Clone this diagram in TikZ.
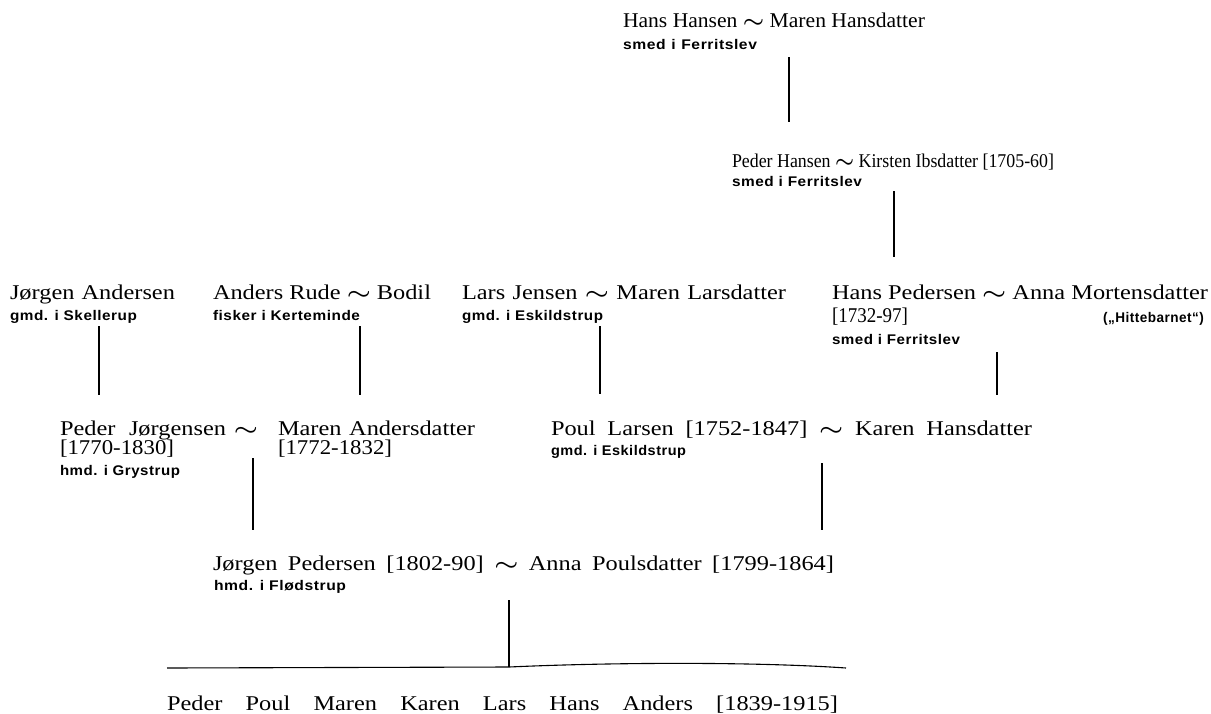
\documentclass[tikz,border=0pt]{standalone}
\usepackage{fontspec}
\usepackage{graphicx}
\newfontfamily\nmfont{Liberation Serif}[FakeStretch=1.16]
\newfontfamily\sbfont{Liberation Sans}[FakeStretch=1.12,LetterSpace=4]
\newcommand\swung{\scalebox{1.3}[1]{\boldmath$\sim$}}
\newsavebox\fitbox
\newcommand\fitw[2]{%
  \sbox\fitbox{#2}%
  \ifdim\wd\fitbox>#1pt
    \resizebox{#1pt}{\height}{\usebox\fitbox}%
  \else
    \makebox[#1pt][s]{#2}%
  \fi}
\tikzset{
  nm/.style={anchor=base west, inner sep=0pt, outer sep=0pt, font=\nmfont\fontsize{21}{19}\selectfont},
  sb/.style={anchor=base west, inner sep=0pt, outer sep=0pt, font=\sbfont\bfseries\fontsize{14}{16}\selectfont},
  link/.style={line width=1.1pt, line cap=butt}
}
\begin{document}
\begin{tikzpicture}[x=1pt,y=-1pt]
\useasboundingbox (0,0) rectangle (1211,713);
% row 1
\node[nm] (n1) at (623,27) {\fitw{302}{Hans Hansen {\swung} Maren Hansdatter}};
\node[sb] (s1) at (623,49) {\fitw{134}{smed i Ferritslev}};
% row 2
\node[nm, font=\nmfont\fontsize{19.5}{19}\selectfont] (n2) at (732,167) {\fitw{322}{Peder Hansen {\swung} Kirsten Ibsdatter [1705-60]}};
\node[sb] (s2) at (732,186) {\fitw{130}{smed i Ferritslev}};
% row 3
\node[nm] (n3a) at (10,299) {\fitw{165}{Jørgen Andersen}};
\node[sb] (s3a) at (10,320) {\fitw{127}{gmd. i Skellerup}};
\node[nm] (n3b) at (213,299) {\fitw{218}{Anders Rude {\swung} Bodil}};
\node[sb] (s3b) at (213,320) {\fitw{147}{fisker i Kerteminde}};
\node[nm] (n3c) at (462,299) {\fitw{324}{Lars Jensen {\swung} Maren Larsdatter}};
\node[sb] (s3c) at (462,320) {\fitw{141}{gmd. i Eskildstrup}};
\node[nm] (n3d) at (832,299) {\fitw{376}{Hans Pedersen {\swung} Anna Mortensdatter}};
\node[nm] (d3d) at (832,322) {\fitw{76}{[1732-97]}};
\node[sb, anchor=base east] (h3d) at (1204,322) {\fitw{101}{(„Hittebarnet“)}};
\node[sb] (s3d) at (832,344) {\fitw{128}{smed i Ferritslev}};
% row 4
\node[nm] (n4a) at (60,435) {\fitw{166}{Peder Jørgensen}};
\node[nm, anchor=base] (t4) at (246,435) {\swung};
\node[nm] (n4b) at (278,435) {\fitw{197}{Maren Andersdatter}};
\node[nm] (d4a) at (60,454) {\fitw{114}{[1770-1830]}};
\node[nm] (d4b) at (278,454) {\fitw{114}{[1772-1832]}};
\node[sb] (s4a) at (60,475) {\fitw{120}{hmd. i Grystrup}};
\node[nm] (n4c) at (551,435) {\fitw{481}{Poul Larsen [1752-1847] {\swung} Karen Hansdatter}};
\node[sb] (s4c) at (551,455) {\fitw{135}{gmd. i Eskildstrup}};
% row 5
\node[nm] (n5) at (213,570) {\fitw{621}{Jørgen Pedersen [1802-90] {\swung} Anna Poulsdatter [1799-1864]}};
\node[sb] (s5) at (214,590) {\fitw{132}{hmd. i Flødstrup}};
% children
\node[nm] (ch) at (167,710) {\fitw{671}{Peder Poul Maren Karen Lars Hans Anders [1839-1915]}};
% connector end points
\coordinate (a1) at (789,57);  \coordinate (b1) at (789,122);
\coordinate (a2) at (894,191); \coordinate (b2) at (894,257);
\coordinate (a3) at (99,326);  \coordinate (b3) at (99,395);
\coordinate (a4) at (360,326); \coordinate (b4) at (360,395);
\coordinate (a5) at (600,326); \coordinate (b5) at (600,394);
\coordinate (a6) at (997,352); \coordinate (b6) at (997,395);
\coordinate (a7) at (253,458); \coordinate (b7) at (253,530);
\coordinate (a8) at (822,463); \coordinate (b8) at (822,530);
\coordinate (a9) at (509,600); \coordinate (b9) at (509,667);
\coordinate (hl) at (167,668); \coordinate (hr) at (846,668);
\foreach \i in {1,...,9} \draw[link] (a\i) -- (b\i);
\draw[link] (hl) -- (b9) .. controls (620,662) and (760,662) .. (hr);
\end{tikzpicture}
\end{document}
